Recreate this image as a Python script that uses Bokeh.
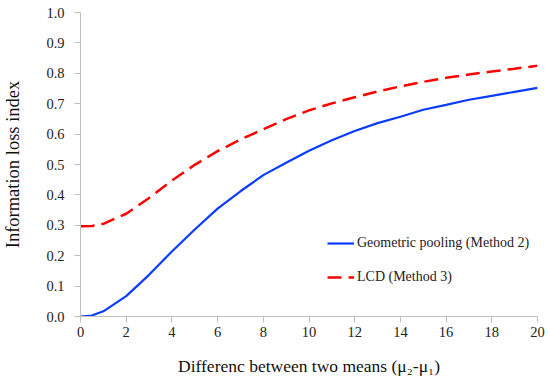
from bokeh.plotting import figure
from bokeh.models import FixedTicker, PrintfTickFormatter, Legend, LegendItem, Range1d
from bokeh.embed import file_html
from bokeh.resources import INLINE

# Data
x_vals = [0, 0.5, 1, 2, 3, 4, 5, 6, 7, 8, 9, 10, 11, 12, 13, 14, 15, 16, 17, 18, 19, 20]
geometric = [0.0, 0.003, 0.017, 0.067, 0.137, 0.214, 0.286, 0.355, 0.412, 0.465, 0.506, 0.545, 0.58, 0.61, 0.636, 0.657, 0.68, 0.696, 0.713, 0.726, 0.739, 0.752]
lcd = [0.297, 0.298, 0.305, 0.338, 0.39, 0.447, 0.499, 0.544, 0.582, 0.616, 0.649, 0.678, 0.701, 0.721, 0.74, 0.757, 0.772, 0.785, 0.796, 0.806, 0.815, 0.825]
x_ticks = [0, 2, 4, 6, 8, 10, 12, 14, 16, 18, 20]
y_ticks = [0.0, 0.1, 0.2, 0.3, 0.4, 0.5, 0.6, 0.7, 0.8, 0.9, 1.0]
labels = ["Geometric pooling (Method 2)", "LCD (Method 3)"]

FONT = "'Liberation Serif', 'Times New Roman', serif"

p = figure(width=548, height=381, output_backend="svg", toolbar_location=None,
           x_range=Range1d(0, 20), y_range=Range1d(0, 1))
p.min_border_left = 79
p.min_border_right = 11
p.min_border_top = 12
p.min_border_bottom = 65
p.outline_line_color = None
p.xgrid.visible = False
p.ygrid.visible = False

r1 = p.line(x_vals, geometric, line_color="#0A3CFF", line_width=2.2)
r2 = p.line(x_vals, lcd, line_color="#FF0000", line_width=2.5, line_dash="14 7")

for ax in (p.xaxis, p.yaxis):
    ax.axis_line_color = "#BFBFBF"
    ax.major_tick_line_color = "#BFBFBF"
    ax.major_tick_out = 6
    ax.major_tick_in = 0
    ax.minor_tick_line_color = None
    ax.major_label_text_font = FONT
    ax.major_label_text_font_size = "14.5px"
    ax.major_label_text_color = "#222222"
    ax.axis_label_text_font = FONT
    ax.axis_label_text_font_style = "normal"
    ax.axis_label_text_color = "#111111"

p.xaxis.axis_label_text_font_size = "17.5px"
p.yaxis.axis_label_text_font_size = "18.5px"
p.xaxis.ticker = FixedTicker(ticks=x_ticks)
p.yaxis.ticker = FixedTicker(ticks=y_ticks)
p.yaxis.formatter = PrintfTickFormatter(format="%.1f")
p.xaxis.major_label_standoff = 4
p.yaxis.major_label_standoff = 10
p.xaxis.axis_label = "Differenc between two means (\u03bc\u2082-\u03bc\u2081)"
p.yaxis.axis_label = "Information loss index"
p.xaxis.axis_label_standoff = 16
p.yaxis.axis_label_standoff = 20

legend = Legend(items=[LegendItem(label=labels[0], renderers=[r1]),
                       LegendItem(label=labels[1], renderers=[r2])],
                location=(247, 29), background_fill_alpha=0, border_line_color=None,
                glyph_width=27, label_standoff=3, spacing=14, padding=0, margin=0,
                label_text_font=FONT, label_text_font_size="14px", label_text_color="#222222")
p.add_layout(legend)

open("out.html", "w").write(file_html(p, INLINE))
